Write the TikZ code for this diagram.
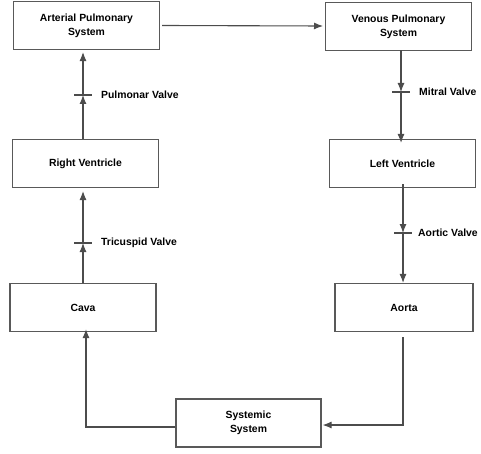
\documentclass[tikz,border=0pt]{standalone}
\usepackage{fontspec}
\setmainfont{Liberation Sans}
\usetikzlibrary{arrows.meta,positioning}

\begin{document}
\begin{tikzpicture}[x=1pt,y=-1pt,
   box/.style={draw=black!65,line width=1.1pt,minimum width=146pt,minimum height=48pt,
      align=center,font=\fontsize{10.4}{14}\selectfont\bfseries},
   flow/.style={draw=black!70,line width=1.1pt,-{Latex[length=9pt,width=7pt]}},
   valve/.style={draw=black!70,line width=1.1pt},
   lbl/.style={anchor=west,inner sep=2pt,font=\fontsize{10.4}{12}\selectfont\bfseries}]
   \useasboundingbox (0,0) rectangle (481,454);

   \node[box] (aps) at (86.5,25.5)  {Arterial Pulmonary\\System};
   \node[box] (vps) at (398.5,26.5) {Venous Pulmonary\\System};
   \node[box] (rv) at (85.5,163.5)  {Right Ventricle};
   \node[box] (lv) at (402.5,163.5) {Left Ventricle};
   \node[box] (cava) at (83,307.5)  {Cava};
   \node[box,minimum width=138pt] (aorta) at (404,307.5) {Aorta};
   \node[box,minimum width=145pt] (sys) at (248.5,423) {Systemic\\System};

   % valves
   \coordinate (pv) at (83,95);
   \coordinate (tv) at (83,243);
   \coordinate (mv) at (401,92);
   \coordinate (av) at (403,233);
   \coordinate (c1) at (403,425);
   \coordinate (c2) at (86,427);

   \path[flow] (aps.east) ++(2pt,0) -- (323,26);

   \path[flow] (pv |- rv.north) -- (pv);
   \path[flow] (pv) -- ([yshift=-2pt]pv |- aps.south);
   \path[flow] (tv |- cava.north) -- (tv);
   \path[flow] (tv) -- ([yshift=-3pt]tv |- rv.south);

   \path[flow] ([yshift=1pt]mv |- vps.south) -- (mv);
   \path[flow] (mv) -- ([yshift=-4pt]mv |- lv.north);
   \path[flow] ([yshift=4pt]av |- lv.south) -- (av);
   \path[flow] (av) -- (av |- aorta.north);

   \draw[valve] ([xshift=-9pt]pv) -- ([xshift=9pt]pv);
   \draw[valve] ([xshift=-9pt]tv) -- ([xshift=9pt]tv);
   \draw[valve] ([xshift=-9pt]mv) -- ([xshift=9pt]mv);
   \draw[valve] ([xshift=-9pt]av) -- ([xshift=9pt]av);

   \node[lbl] at ([xshift=16pt]pv) {Pulmonar Valve};
   \node[lbl] at ([xshift=16pt]tv) {Tricuspid Valve};
   \node[lbl] at ([xshift=16pt]mv) {Mitral Valve};
   \node[lbl] at ([xshift=13pt]av) {Aortic Valve};

   \path[flow] ([yshift=-5pt]c1 |- aorta.south) -- (c1) -- ([xshift=1pt]c1 -| sys.east);
   \path[flow] (c2 -| sys.west) -- (c2) -- ([yshift=3pt]c2 |- cava.south);
\end{tikzpicture}
\end{document}
